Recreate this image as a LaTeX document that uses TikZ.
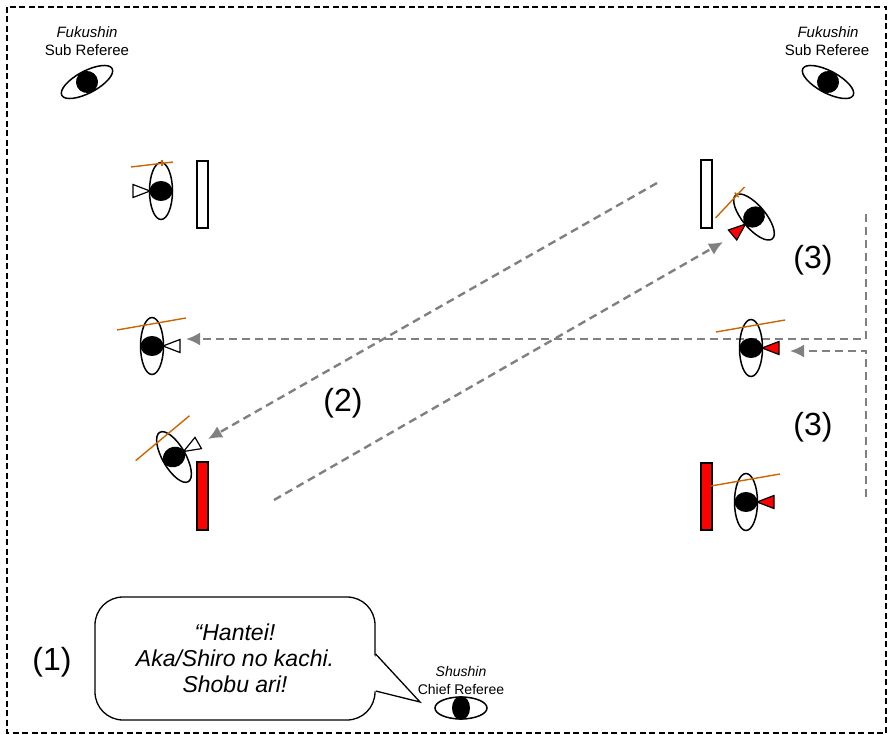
\documentclass[tikz,border=0pt]{standalone}
\usepackage{fontspec}
\setmainfont{Liberation Sans}
\usepackage{tikz}
\usetikzlibrary{arrows.meta}
\definecolor{shinaicol}{RGB}{204,102,0}
\definecolor{movecol}{RGB}{128,128,128}

% one player seen from above: position, turn, facing (1 right, -1 left), colour, shinai ends, extra
\newcommand{\kenshi}[7]{%
  \begin{scope}[shift={(#1)},rotate=#2]
    \draw[body] (0,0) ellipse [x radius=11.5pt, y radius=28.5pt];
    \fill (0,0) ellipse [x radius=11.5pt, y radius=10pt];
    \draw[body,line width=1.2pt,fill=#4] ({#3*11},0) -- ({#3*28},-6.5) -- ({#3*28},6.5) -- cycle;
    \draw[shinai] #5 -- #6;
    #7
  \end{scope}}

\begin{document}
\begin{tikzpicture}[x=1pt,y=-1pt,>={Latex[length=14pt,width=13pt]},
		body/.style={draw=black,line width=1.5pt},
		shinai/.style={draw=shinaicol,line width=1.4pt},
		flag/.style={draw=black,line width=1.3pt},
		move/.style={->,draw=movecol,line width=2.4pt,dash pattern=on 8pt off 5pt},
		lbl/.style={font=\fontsize{15}{18}\selectfont},
		num/.style={font=\fontsize{32}{36}\selectfont},
		bubble/.style={draw=black,line width=1.3pt,fill=white,rounded corners=28pt,
			minimum width=280pt,minimum height=123pt,align=center,
			font=\fontsize{23}{26}\selectfont\itshape}]
		\useasboundingbox (0,0) rectangle (892,735);
		\draw[line width=1.1pt,dash pattern=on 6pt off 3.5pt] (7,7) rectangle (886,733);
		
		% referees
		\node[lbl,font=\fontsize{15}{18}\selectfont\itshape] (fuku1) at (87,32) {Fukushin};
		\node[lbl]    (sub1)   at (87,50)   {Sub Referee};
		\node[lbl,font=\fontsize{15}{18}\selectfont\itshape] (fuku2) at (828,32) {Fukushin};
		\node[lbl]    (sub2)   at (827,50)  {Sub Referee};
		\node[lbl,font=\fontsize{14}{17}\selectfont\itshape] (shu) at (461,671) {Shushin};
		\node[lbl,font=\fontsize{14}{17}\selectfont] (chief) at (461,689) {Chief Referee};
		
		\begin{scope}[shift={(87,82)},rotate=28]
			\draw[body] (0,0) ellipse [x radius=28.5pt, y radius=11pt];
			\fill (0,0) circle (11pt);
		\end{scope}
		\begin{scope}[shift={(828,82)},rotate=-28]
			\draw[body] (0,0) ellipse [x radius=28.5pt, y radius=11pt];
			\fill (0,0) circle (11pt);
		\end{scope}
		\draw[body] (461,708) ellipse [x radius=26pt, y radius=11pt];
		\fill (461,708) ellipse [x radius=9pt, y radius=12pt];
		
		% moves
		\coordinate (a1s) at (657,183);
		\coordinate (a1e) at (208,439);
		\coordinate (a2s) at (274,500);
		\coordinate (a2e) at (723,242);
		\coordinate (a3s) at (866,214);
		\coordinate (a3m) at (866,339);
		\coordinate (a3e) at (186,339);
		\coordinate (a4s) at (866,497);
		\coordinate (a4m) at (866,351);
		\coordinate (a4e) at (790,351);
		\draw[move] (a1s) -- (a1e);
		\draw[move] (a2s) -- (a2e);
		\draw[move] (a3s) -- (a3m) -- (a3e);
		\draw[move] (a4s) -- (a4m) -- (a4e);
		
		% start lines
		\draw[flag,fill=white] (197,161) rectangle (208,228);
		\draw[flag,fill=white] (701,160) rectangle (712,228);
		\draw[flag,fill=red]   (197,462) rectangle (208,530);
		\draw[flag,fill=red]   (701,463) rectangle (712,530);
		
		% players
		\kenshi{161,191}{0}{-1}{white}{(-30,-24)}{(12,-29)}{\draw[shinai] (1,-31) -- (1,-25);}
		\kenshi{754,217}{40}{-1}{red}{(-30,-24)}{(12,-29)}{\draw[shinai] (1,-31) -- (1,-25);}
		\kenshi{152,346}{0}{1}{white}{(-35,-16)}{(34,-28)}{}
		\kenshi{751,348}{0}{1}{red}{(-35,-16)}{(34,-28)}{}
		\kenshi{174,457}{30}{1}{white}{(-35,-16)}{(34,-28)}{}
		\kenshi{746,502}{0}{1}{red}{(-35,-16)}{(34,-28)}{}
		
		\node[num] (n1)  at (52,662)  {(1)};
		\node[num] (n2)  at (343,403) {(2)};
		\node[num] (n3a) at (813,260) {(3)};
		\node[num] (n3b) at (813,427) {(3)};
		
		% call of the chief referee
		\node[bubble] (call) at (235,658.5) {“Hantei!\\Aka/Shiro no kachi.\\Shobu ari!};
		\fill[white] (373,654) -- (420,702) -- (373,691) -- cycle;
		\draw[line width=1.3pt] (call.east |- 0,654) -- (420,702) -- (call.east |- 0,691);
\end{tikzpicture}
\end{document}
